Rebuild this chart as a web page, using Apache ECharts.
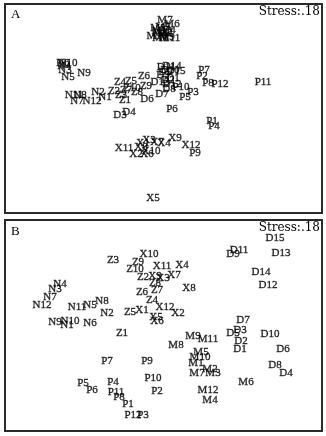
<!DOCTYPE html>
<html><head><meta charset="utf-8">
<script src="https://cdn.jsdelivr.net/npm/echarts@6/dist/echarts.min.js"></script>
<style>html,body{margin:0;padding:0;background:#fff}#c{width:326px;height:436px}</style>
</head><body><div id="c"></div>
<script>
// Panel A (NMDS dim1 / dim2)
const aNames = ['N1','N2','N3','N4','N5','N6','N7','N8','N9','N10','N11','N12',
 'Z1','Z2','Z3','Z4','Z5','Z6','Z7','Z8','Z9','Z10',
 'D1','D2','D3','D4','D5','D6','D7','D8','D9','D10','D11','D12','D13','D14','D15',
 'P1','P2','P3','P4','P5','P6','P7','P8','P9','P10','P11','P12',
 'M1','M2','M3','M4','M5','M6','M7','M8','M9','M10','M11','M12',
 'X1','X2','X3','X4','X5','X6','X7','X8','X9','X10','X11','X12'];
const aX = [-0.58,-0.65,-0.98,-0.99,-0.95,-1.00,-0.86,-0.83,-0.79,-0.95,-0.89,-0.71,
 -0.38,-0.49,-0.42,-0.43,-0.32,-0.19,-0.37,-0.26,-0.17,-0.31,
 0.10,0.05,-0.43,-0.34,0.02,-0.16,-0.01,0.06,0.00,0.07,0.03,0.09,-0.03,0.09,0.13,
 0.49,0.39,0.30,0.51,0.22,0.09,0.41,0.45,0.32,0.18,1.00,0.57,
 -0.03,0.02,-0.05,0.05,0.00,0.09,0.02,-0.03,0.04,-0.06,0.07,-0.01,
 -0.20,-0.27,-0.14,0.01,-0.10,-0.16,-0.06,-0.22,0.12,-0.12,-0.39,0.28];
const aY = [0.11,0.16,0.38,0.42,0.31,0.45,0.07,0.13,0.35,0.45,0.13,0.07,
 0.08,0.17,0.13,0.26,0.27,0.32,0.18,0.16,0.22,0.20,
 0.30,0.28,-0.07,-0.04,0.36,0.09,0.14,0.19,0.33,0.38,0.41,0.24,0.26,0.42,0.37,
 -0.13,0.32,0.16,-0.18,0.11,-0.01,0.38,0.25,-0.45,0.21,0.26,0.24,
 0.70,0.75,0.80,0.78,0.81,0.84,0.88,0.75,0.71,0.72,0.70,0.77,
 -0.35,-0.46,-0.32,-0.35,-0.90,-0.46,-0.34,-0.39,-0.30,-0.43,-0.40,-0.37];

// Panel B
const bNames = aNames;
const bX = [-0.96,-0.56,-1.08,-1.03,-0.73,-0.73,-1.13,-0.61,-1.08,-0.93,-0.86,-1.21,
 -0.41,-0.20,-0.50,-0.11,-0.33,-0.21,-0.06,-0.08,-0.25,-0.28,
 0.77,0.78,0.77,1.23,0.70,1.20,0.80,1.12,0.70,1.07,0.76,1.05,1.18,0.98,1.12,
 -0.35,-0.06,-0.20,-0.50,-0.80,-0.71,-0.56,-0.44,-0.16,-0.10,-0.47,-0.30,
 0.33,0.47,0.50,0.47,0.38,0.83,0.34,0.13,0.30,0.37,0.45,0.45,
 -0.21,0.15,0.00,0.19,-0.07,-0.06,0.11,0.26,-0.08,-0.14,-0.01,0.02];
const bY = [0.01,0.13,0.37,0.42,0.21,0.03,0.29,0.25,0.04,0.05,0.19,0.21,
 -0.07,0.49,0.66,0.26,0.14,0.34,0.36,0.43,0.64,0.57,
 -0.23,-0.15,-0.04,-0.47,-0.07,-0.23,0.06,-0.39,0.72,-0.08,0.76,0.41,0.73,0.54,0.88,
 -0.78,-0.65,-0.89,-0.56,-0.57,-0.64,-0.35,-0.71,-0.35,-0.52,-0.66,-0.89,
 -0.37,-0.43,-0.47,-0.74,-0.26,-0.56,-0.47,-0.19,-0.10,-0.31,-0.13,-0.64,
 0.16,0.13,0.48,0.61,0.09,0.05,0.51,0.38,0.50,0.72,0.60,0.19];

const panelTitles = ['A','B'];
const stressText = 'Stress:.18';

function pts(names, xs, ys){ return names.map((n,i)=>({name:n, value:[xs[i], ys[i]]})); }

const chart = echarts.init(document.getElementById('c'), null, {renderer:'canvas'});
const lbl = {show:true, position:'inside', formatter:'{b}', color:'#000',
  fontFamily:'Liberation Serif', fontSize:11, textBorderColor:'#000', textBorderWidth:0.35};
const axX = (gi, min, max) => ({gridIndex:gi, type:'value', min, max, show:false});
chart.setOption({
  animation:false,
  grid:[
    {left:5, top:4, width:317, height:209, show:true, borderColor:'#2a2a2a', borderWidth:2, backgroundColor:'#fff'},
    {left:5, top:220, width:317, height:211, show:true, borderColor:'#2a2a2a', borderWidth:2, backgroundColor:'#fff'}
  ],
  xAxis:[axX(0,-1.58,1.59), axX(1,-1.58,1.59)],
  yAxis:[axX(0,-1.05,1.04), axX(1,-1.05,1.06)],
  series:[
    {type:'scatter', xAxisIndex:0, yAxisIndex:0, symbolSize:0.1, label:lbl, data:pts(aNames,aX,aY)},
    {type:'scatter', xAxisIndex:1, yAxisIndex:1, symbolSize:0.1, label:lbl, data:pts(bNames,bX,bY)}
  ],
  graphic:[
    {type:'text', left:11, top:8, style:{text:panelTitles[0], fontFamily:'Liberation Serif', fontSize:13, fill:'#000'}},
    {type:'text', right:6, top:6, style:{text:stressText, fontFamily:'DejaVu Serif', fontSize:12, fill:'#000'}},
    {type:'text', left:11, top:225, style:{text:panelTitles[1], fontFamily:'Liberation Serif', fontSize:13, fill:'#000'}},
    {type:'text', right:6, top:222, style:{text:stressText, fontFamily:'DejaVu Serif', fontSize:12, fill:'#000'}}
  ]
});
</script></body></html>
